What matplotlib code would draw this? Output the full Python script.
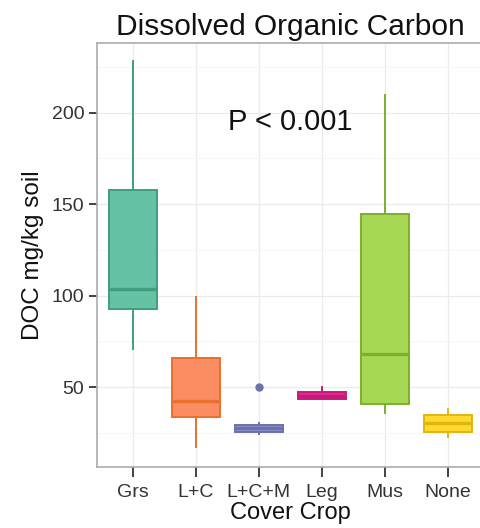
import matplotlib.pyplot as plt
from matplotlib.ticker import MultipleLocator

plt.rcParams['font.family'] = ['Liberation Sans', 'DejaVu Sans']

# summary stats per cover crop (DOC, mg/kg soil)
categories = ['Grs', 'L+C', 'L+C+M', 'Leg', 'Mus', 'None']
whisker_low = [71, 17, 24.5, 43.3, 36, 22.7]
q1 = [92.8, 33.5, 25.4, 43.3, 40.8, 25.6]
median = [103.5, 42.3, 27.5, 45.3, 68, 30.1]
q3 = [157.8, 65.8, 29.2, 47.4, 144.3, 34.7]
whisker_high = [228, 99, 30.5, 50.2, 209.5, 38]
outliers = [[], [], [50], [], [], []]

fills = ['#66C2A5', '#FC8D62', '#8D96CB', '#E7298A', '#A6D854', '#FFD92F']
edges = ['#3E9E7E', '#E8712E', '#6A70B0', '#C51B7D', '#7CAF2C', '#E3B60E']

stats = []
for i, name in enumerate(categories):
    stats.append({'label': name, 'whislo': whisker_low[i], 'q1': q1[i],
                  'med': median[i], 'q3': q3[i], 'whishi': whisker_high[i],
                  'fliers': outliers[i]})

fig = plt.figure(figsize=(4.8, 5.28), dpi=100)
ax = fig.add_axes([0.202, 0.1155, 0.806, 0.803])

positions = list(range(1, len(categories) + 1))
for i, st in enumerate(stats):
    c = edges[i]
    ax.bxp([st], positions=[positions[i]], widths=0.76, patch_artist=True,
           showcaps=False,
           boxprops=dict(facecolor=fills[i], edgecolor=c, linewidth=1.4),
           medianprops=dict(color=c, linewidth=2.4),
           whiskerprops=dict(color=c, linewidth=1.4),
           flierprops=dict(marker='o', markerfacecolor=c, markeredgecolor=c,
                           markersize=5),
           zorder=3)

ax.set_xlim(0.43, 6.57)
ax.set_ylim(6.3, 238)
ax.set_xticks(positions)
ax.set_xticklabels(categories)
ax.yaxis.set_major_locator(MultipleLocator(50))
ax.yaxis.set_minor_locator(MultipleLocator(25))
ax.set_yticks([50, 100, 150, 200])

ax.grid(which='major', color='#EBEBEB', linewidth=0.9, zorder=0)
ax.grid(which='minor', axis='y', color='#F6F6F6', linewidth=0.7, zorder=0)
ax.set_axisbelow(True)

for side in ax.spines:
    ax.spines[side].set_color('#ABABAB')
    ax.spines[side].set_linewidth(1.2)

ax.tick_params(axis='both', which='major', length=6, width=1.3,
               color='#333333', labelsize=14, labelcolor='#333333', pad=3)
ax.tick_params(axis='x', which='major', length=7, pad=5)
ax.tick_params(axis='y', which='minor', length=0)

ax.set_xlabel('Cover Crop', fontsize=17, labelpad=1, color='#111111')
ax.set_ylabel('DOC mg/kg soil', fontsize=17.5, labelpad=6, color='#111111')
ax.set_title('Dissolved Organic Carbon', fontsize=21.5, pad=6, color='#111111')

ax.text(3.5, 195, 'P < 0.001', fontsize=21, ha='center', va='center',
        color='#111111')

fig.savefig('out.png', dpi=100)
